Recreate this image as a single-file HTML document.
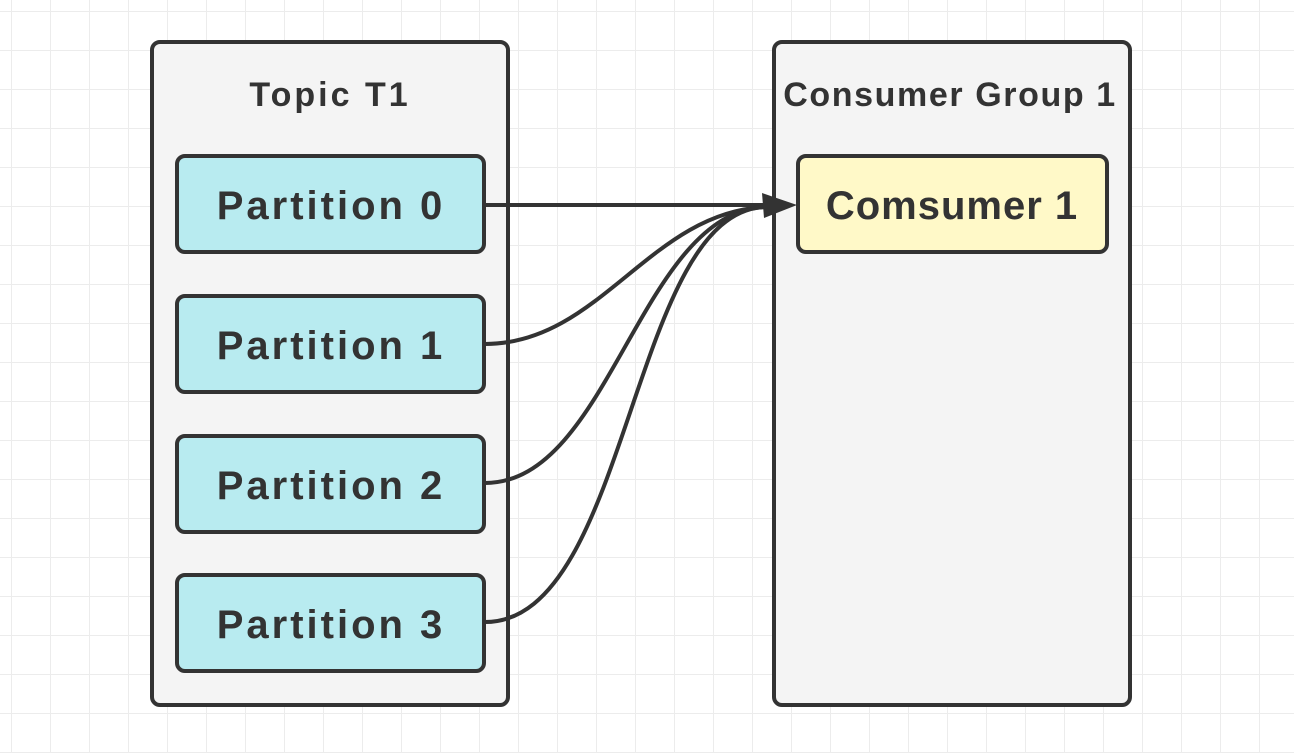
<!DOCTYPE html>
<html><head><meta charset="utf-8"><style>
body{margin:0;width:1294px;height:753px;overflow:hidden;background:#fff;
background-image:linear-gradient(#ececec 1px,transparent 1px),linear-gradient(90deg,#ececec 1px,transparent 1px);
background-size:39px 39px;background-position:11px 11px;}
</style></head><body>
<svg width="1294" height="753" style="position:absolute;left:0;top:0" font-family="'Liberation Sans',sans-serif" font-weight="bold" fill="#333">
<rect x="152" y="42" width="356" height="663" rx="8" fill="#f4f4f4" stroke="#333" stroke-width="4"/>
<rect x="774" y="42" width="356" height="663" rx="8" fill="#f4f4f4" stroke="#333" stroke-width="4"/>
<text x="330" y="106" font-size="34" text-anchor="middle" fill="#333" letter-spacing="3">Topic T1</text>
<text x="950" y="106" font-size="34" text-anchor="middle" fill="#333" letter-spacing="1.6">Consumer Group 1</text>
<g stroke="#333" stroke-width="4" fill="#b8ebf0">
<rect x="177" y="156" width="307" height="96" rx="8"/>
<rect x="177" y="296" width="307" height="96" rx="8"/>
<rect x="177" y="436" width="307" height="96" rx="8"/>
<rect x="177" y="575" width="307" height="96" rx="8"/>
<rect x="798" y="156" width="309" height="96" rx="8" fill="#fff9c8"/>
</g>
<g font-size="40" text-anchor="middle" fill="#333">
<text x="331" y="219" letter-spacing="3">Partition 0</text>
<text x="331" y="359" letter-spacing="3">Partition 1</text>
<text x="331" y="499" letter-spacing="3">Partition 2</text>
<text x="331" y="638" letter-spacing="3">Partition 3</text>
<text x="952" y="219" letter-spacing="1">Comsumer 1</text>
</g>
<g stroke="#333" stroke-width="4" fill="none">
<path d="M485,205 L765,205"/>
<path d="M485,344 C600,344 650,212 765,207"/>
<path d="M485,483 C610,483 640,212 765,207"/>
<path d="M485,622 C630,622 630,212 765,207"/>
</g>
<path d="M797,205 L762,193 L764,218 Z" fill="#333"/>
</svg>
</body></html>
